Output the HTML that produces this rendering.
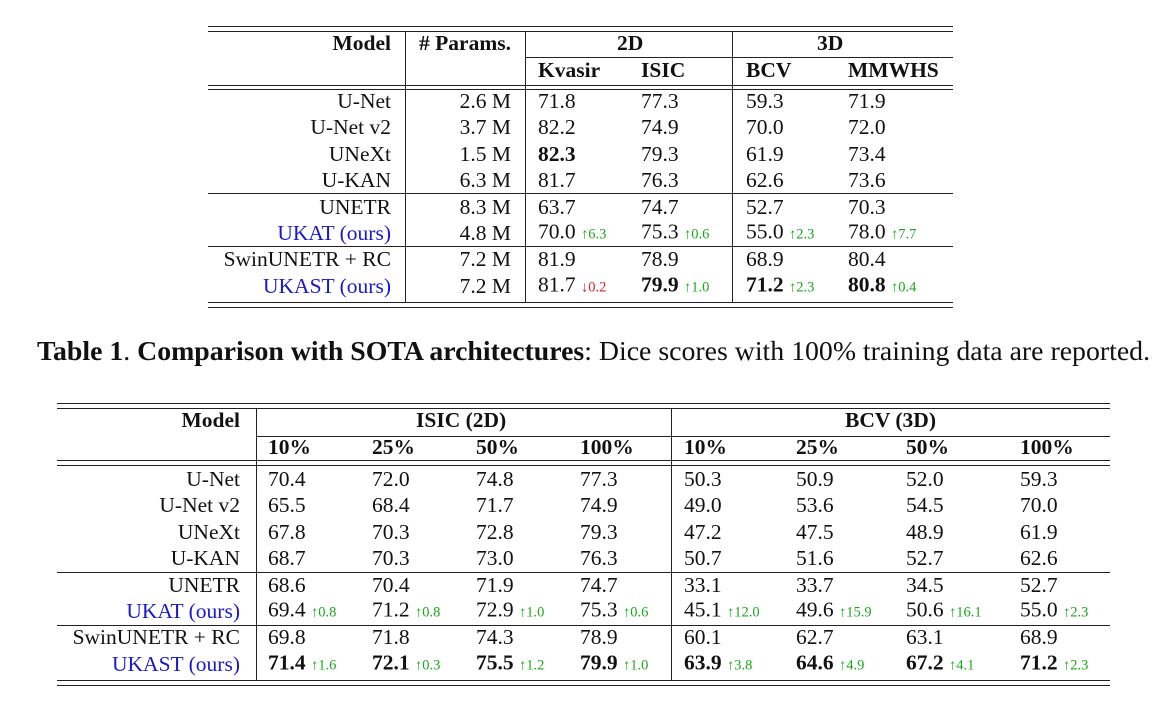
<!DOCTYPE html>
<html><head><meta charset="utf-8"><style>
body{margin:0;width:1165px;height:710px;background:#fff;position:relative;overflow:hidden;font-family:"Liberation Serif",serif;color:#111}
.t{position:absolute;font-size:21.5px;line-height:22px;white-space:nowrap;transform:translateY(-50%)}
.r{text-align:right}
.h{position:absolute;height:1px;background:#222}
.v{position:absolute;width:1px;background:#222}
.b{font-weight:bold}
.blue{color:#1a1acc}
.up{color:#1aa81a;font-size:14.5px}
.dn{color:#e02020;font-size:14.5px}
#cap{position:absolute;left:37px;top:336px;font-size:27.8px;white-space:nowrap}
</style></head><body>
<div id="cap"><b>Table 1</b>. <b>Comparison with SOTA architectures</b>: Dice scores with 100% training data are reported.</div>
<script>
function line(cls,x,y,len,name){
  const e=document.createElement('div');e.className=cls;
  if(cls==='h'){e.style.left=x+'px';e.style.top=y+'px';e.style.width=len+'px';}
  else{e.style.left=x+'px';e.style.top=y+'px';e.style.height=len+'px';}
  
  
  document.body.appendChild(e);
}
function txt(html,x,y,right,name,cls){
  const e=document.createElement('div');e.className='t'+(cls?' '+cls:'');
  if(right){e.style.right=(1165-x)+'px';e.classList.add('r');}else e.style.left=x+'px';
  e.style.top=y+'px';e.innerHTML=html;
  
  
  document.body.appendChild(e);
}
function cell(v){
  let s=v[1]?'<b>'+v[0]+'</b>':v[0];
  if(v[2]) s+=' <span class="'+(v[3]?'up':'dn')+'">'+(v[3]?'↑':'↓')+v[2]+'</span>';
  return s;
}
const t1Models=["U-Net","U-Net v2","UNeXt","U-KAN","UNETR","UKAT (ours)","SwinUNETR + RC","UKAST (ours)"];
const t1Params=["2.6 M","3.7 M","1.5 M","6.3 M","8.3 M","4.8 M","7.2 M","7.2 M"];
const t1Kvasir=[["71.8"],["82.2"],["82.3",1],["81.7"],["63.7"],["70.0",0,"6.3",1],["81.9"],["81.7",0,"0.2",0]];
const t1Isic=[["77.3"],["74.9"],["79.3"],["76.3"],["74.7"],["75.3",0,"0.6",1],["78.9"],["79.9",1,"1.0",1]];
const t1Bcv=[["59.3"],["70.0"],["61.9"],["62.6"],["52.7"],["55.0",0,"2.3",1],["68.9"],["71.2",1,"2.3",1]];
const t1Mm=[["71.9"],["72.0"],["73.4"],["73.6"],["70.3"],["78.0",0,"7.7",1],["80.4"],["80.8",1,"0.4",1]];
const t1Cols=[t1Kvasir,t1Isic,t1Bcv,t1Mm];
const t1X=[538,641,746,848];
line('h',208,26,745,'t1-top-rule');line('h',208,31,745,'t1-top-rule-2');
line('h',525,57,428,'t1-group-rule');
line('h',208,85,745,'t1-header-rule');line('h',208,89,745,'t1-header-rule-2');
line('h',208,193,745,'t1-rule-transformer');line('h',208,246,745,'t1-rule-swin');
line('h',208,302,745,'t1-bottom-rule');line('h',208,307,745,'t1-bottom-rule-2');
line('v',405,31,271,'t1-vline-1');line('v',525,31,271,'t1-vline-2');line('v',732,31,271,'t1-vline-3');
txt('Model',391,43,1,'t1-header-model','b');
txt('# Params.',511,43,1,'t1-header-params','b');
txt('2D',617,43,0,'t1-header-2d','b');txt('3D',817,43,0,'t1-header-3d','b');
['Kvasir','ISIC','BCV','MMWHS'].forEach((h,i)=>txt(h,t1X[i],70,0,'t1-header-'+h.toLowerCase(),'b'));
t1Models.forEach((m,r)=>{
  const y=101+r*26.4;
  txt(m,391,y,1,'t1-model-'+r,m.includes('ours')?'blue':'');
  txt(t1Params[r],511,y,1,'t1-params-'+r);
  t1Cols.forEach((c,i)=>txt(cell(c[r]),t1X[i],y,0,'t1-cell-'+r+'-'+i));
});
const t2Models=t1Models;
const t2Cols=[
 [["70.4"],["65.5"],["67.8"],["68.7"],["68.6"],["69.4",0,"0.8",1],["69.8"],["71.4",1,"1.6",1]],
 [["72.0"],["68.4"],["70.3"],["70.3"],["70.4"],["71.2",0,"0.8",1],["71.8"],["72.1",1,"0.3",1]],
 [["74.8"],["71.7"],["72.8"],["73.0"],["71.9"],["72.9",0,"1.0",1],["74.3"],["75.5",1,"1.2",1]],
 [["77.3"],["74.9"],["79.3"],["76.3"],["74.7"],["75.3",0,"0.6",1],["78.9"],["79.9",1,"1.0",1]],
 [["50.3"],["49.0"],["47.2"],["50.7"],["33.1"],["45.1",0,"12.0",1],["60.1"],["63.9",1,"3.8",1]],
 [["50.9"],["53.6"],["47.5"],["51.6"],["33.7"],["49.6",0,"15.9",1],["62.7"],["64.6",1,"4.9",1]],
 [["52.0"],["54.5"],["48.9"],["52.7"],["34.5"],["50.6",0,"16.1",1],["63.1"],["67.2",1,"4.1",1]],
 [["59.3"],["70.0"],["61.9"],["62.6"],["52.7"],["55.0",0,"2.3",1],["68.9"],["71.2",1,"2.3",1]]];
const t2Heads=["10%","25%","50%","100%","10%","25%","50%","100%"];
const t2X=[268,372,476,580,684,796,906,1020];
line('h',57,403,1053,'t2-top-rule');line('h',57,408,1053,'t2-top-rule-2');
line('h',256,436,854,'t2-group-rule');
line('h',57,460,1053,'t2-header-rule');line('h',57,465,1053,'t2-header-rule-2');
line('h',57,572,1053,'t2-rule-transformer');line('h',57,625,1053,'t2-rule-swin');
line('h',57,680,1053,'t2-bottom-rule');line('h',57,685,1053,'t2-bottom-rule-2');
line('v',256,408,272,'t2-vline-1');line('v',671,408,272,'t2-vline-2');
txt('Model',240,420,1,'t2-header-model','b');
txt('ISIC (2D)',416,420,0,'t2-header-isic','b');txt('BCV (3D)',845,420,0,'t2-header-bcv','b');
t2Heads.forEach((h,i)=>txt(h,t2X[i],447,0,'t2-header-'+i,'b'));
t2Models.forEach((m,r)=>{
  const y=479+r*26.4;
  txt(m,240,y,1,'t2-model-'+r,m.includes('ours')?'blue':'');
  t2Cols.forEach((c,i)=>txt(cell(c[r]),t2X[i],y,0,'t2-cell-'+r+'-'+i));
});
</script>
</body></html>
